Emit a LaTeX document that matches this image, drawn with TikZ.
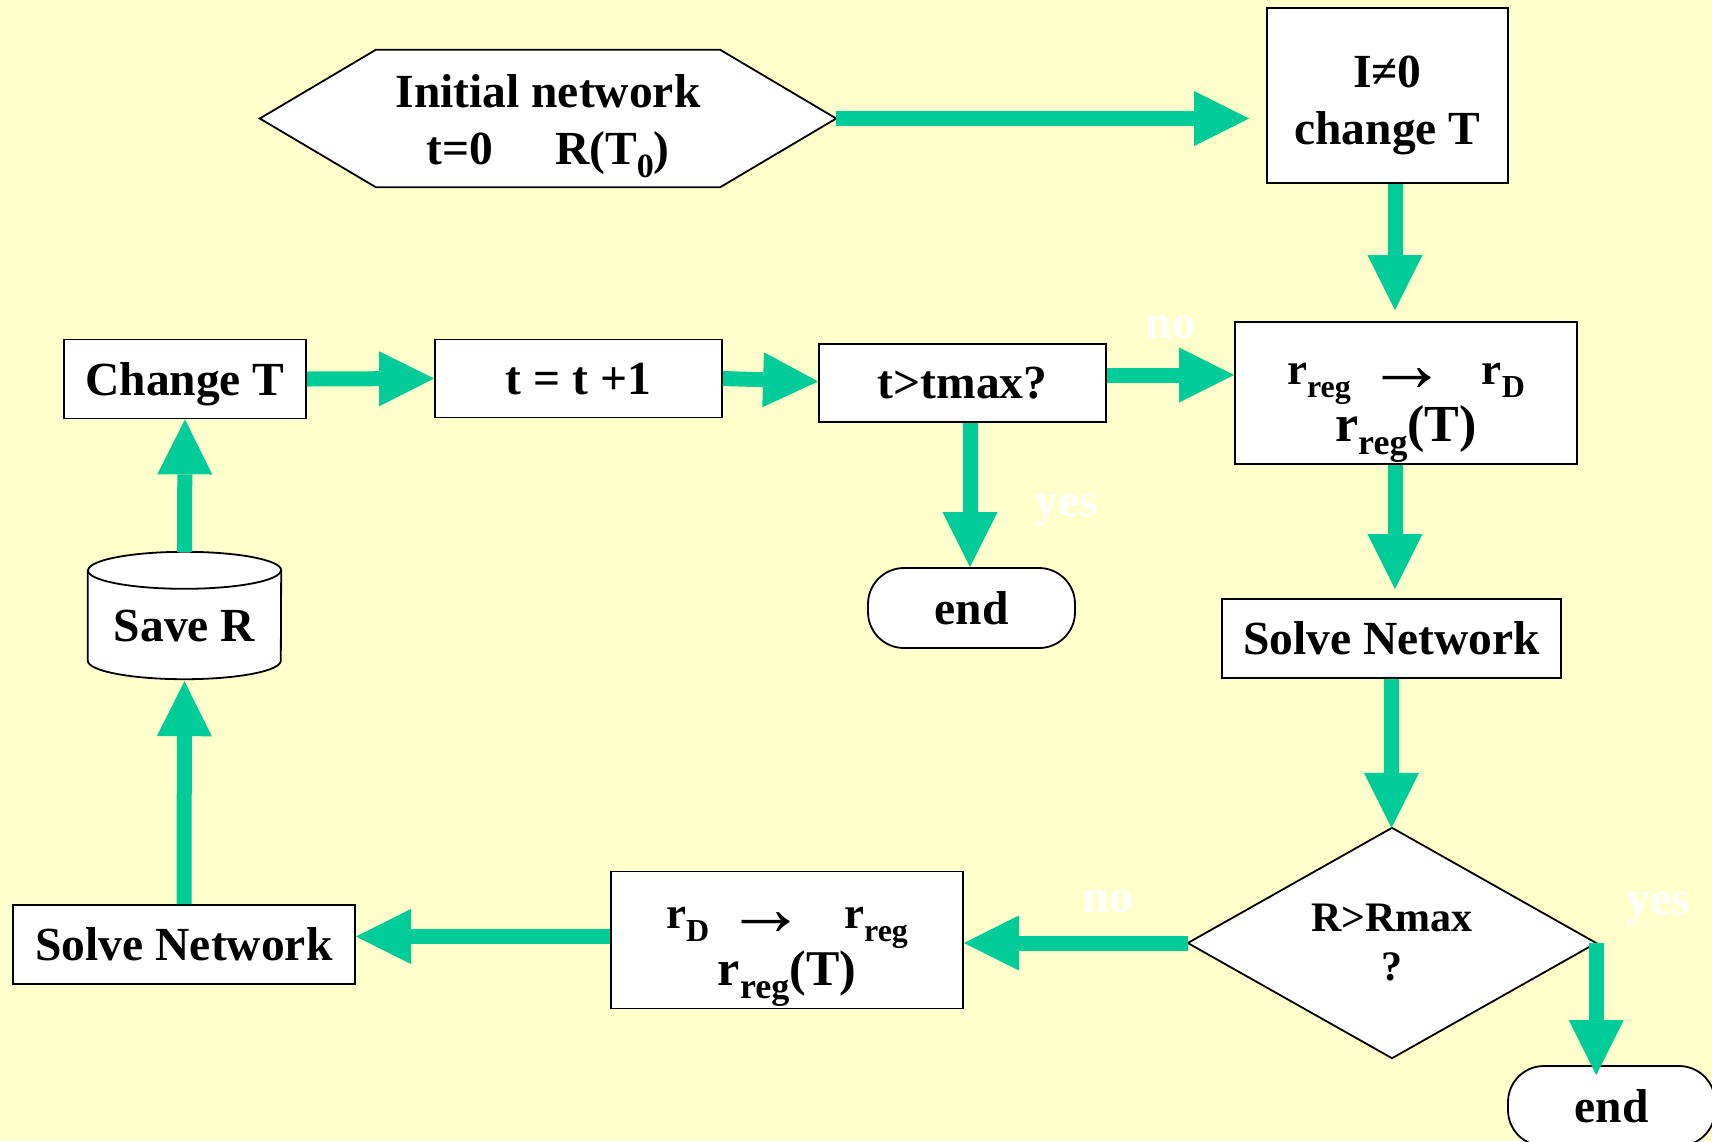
\documentclass[tikz,border=0pt]{standalone}
\usepackage{fontspec}
\usepackage{graphicx}
\setmainfont{Liberation Serif}
\usetikzlibrary{arrows.meta,backgrounds}
\definecolor{bgy}{HTML}{FFFFCC}
\definecolor{flowc}{HTML}{00CC99}
\newcommand{\lowsub}[2][32]{\raisebox{-13pt}{\fontsize{#1}{#1}\selectfont #2}}
\newcommand{\bigarr}{\smash{\raisebox{-7pt}{\scalebox{1.8}{\mdseries →}}}}
\begin{document}
\begin{tikzpicture}[x=1pt,y=-1pt,
  txt/.style={font=\fontsize{47.5}{57}\selectfont\bfseries, align=center, inner sep=0pt},
  box/.style={txt, draw=black, line width=1.8pt, fill=white},
  one/.style={text depth=0pt},
  outline/.style={draw=black, line width=1.8pt, fill=white},
  flow/.style={draw=flowc, line width=15pt, -{Triangle[length=55pt,width=55pt,line width=0pt]}},
  lbl/.style={font=\fontsize{47.5}{57}\selectfont\bfseries, text=white, inner sep=0pt},
  term/.style={box, one, rounded corners=36pt, minimum width=207pt, minimum height=80pt}
]
\useasboundingbox (0,0) rectangle (1712,1141);
\clip (0,0) rectangle (1712,1141);
\begin{scope}[on background layer]
\fill[bgy] (0,0) rectangle (1712,1141);
\end{scope}

% nodes
\node[txt, minimum width=576pt, minimum height=137pt] (hex) at (548,118.5)
  {\rule{0pt}{49pt}Initial network\\t=0\hspace{62pt}R(T\lowsub[34]{0})};
\node[box, minimum width=241pt, minimum height=175pt] (itop) at (1387.5,95.5)
  {\rule{0pt}{51pt}I≠0\\change T};
\node[box, minimum width=342pt, minimum height=142pt] (rreg) at (1406,393)
  {{\fontsize{45}{45}\selectfont\rule{0pt}{60pt}r\lowsub{reg}\hspace{16pt}\bigarr\hspace{34pt}r\lowsub{D}}\\[0pt]{\fontsize{52}{52}\selectfont r\lowsub[36]{reg}(T)}};
\node[box, one, minimum width=287pt, minimum height=78pt] (tmax) at (962.5,383) {t>tmax?};
\node[box, one, minimum width=287pt, minimum height=78pt] (tinc) at (578.5,378.5) {t = t +1};
\node[box, one, minimum width=242pt, minimum height=79pt] (chT) at (185,379) {Change T};
\node[txt, minimum width=193pt, minimum height=127pt] (saveR) at (184.5,615.5) {\smash{\raisebox{-26pt}{Save R}}};
\node[box, one, minimum width=342pt, minimum height=79pt] (solveL) at (184,944.5) {Solve Network};
\node[box, minimum width=352pt, minimum height=137pt] (rD) at (787,940)
  {{\fontsize{45}{45}\selectfont\rule{0pt}{54pt}r\lowsub{D}\hspace{16pt}\bigarr\hspace{38pt}r\lowsub{reg}}\\[0pt]{\fontsize{50}{50}\selectfont r\lowsub[36]{reg}(T)}};
\node[txt, minimum width=408pt, minimum height=230pt] (dec) at (1392,943)
  {\fontsize{42}{49}\selectfont R>Rmax\\[-8pt]\fontsize{42}{49}\selectfont ?};
\node[box, one, minimum width=339pt, minimum height=79pt] (solveR) at (1391.5,638.5) {Solve Network};
\node[term] (endM) at (971.5,608) {end};
\node[term] (endBR) at (1611.5,1106) {end};

% shapes drawn behind their text
\begin{scope}[on background layer]
\draw[outline] (hex.west) -- ([xshift=116pt]hex.north west) -- ([xshift=-116pt]hex.north east)
  -- (hex.east) -- ([xshift=-116pt]hex.south east) -- ([xshift=116pt]hex.south west) -- cycle;
\draw[outline] (dec.west) -- (dec.north) -- (dec.east) -- (dec.south) -- cycle;
\draw[outline] ([yshift=-18.5pt]saveR.north west) -- ([yshift=18.5pt]saveR.south west)
  arc[start angle=180, end angle=360, x radius=96.5pt, y radius=18.5pt]
  -- ([yshift=-18.5pt]saveR.north east)
  arc[start angle=0, end angle=180, x radius=96.5pt, y radius=18.5pt] -- cycle;
\draw[draw=black, line width=1.8pt] ([yshift=-18.5pt]saveR.north west)
  arc[start angle=180, end angle=360, x radius=96.5pt, y radius=18.5pt];
\end{scope}

% connectors
\draw[flow, shorten >=17pt] (hex.east) -- (hex.east -| itop.west);
\draw[flow, shorten >=11pt] ([xshift=7.5pt]itop.south) -- ([xshift=-11pt]rreg.north);
\draw[flow] ([yshift=8pt]tmax.east) -- ([yshift=8pt]tmax.east -| rreg.west);
\draw[flow] (chT.east) -- (tinc.west);
\draw[flow] (tinc.east) -- ([yshift=1.5pt]tmax.west);
\draw[flow] (saveR.north) -- (chT.south);
\draw[flow] (solveL.north) -- ([yshift=-2pt]saveR.south);
\draw[flow] ([yshift=3.5pt]rD.west) -- ([yshift=3.5pt]rD.west -| solveL.east);
\draw[flow] (dec.west) -- (dec.west -| rD.east);
\draw[flow] (dec.east) -- ([yshift=-10pt]dec.east |- endBR.north);
\draw[flow, shorten >=9pt] ([xshift=-11pt]rreg.south) -- ([xshift=-11pt]rreg.south |- solveR.north);
\draw[flow] (solveR.south) -- (solveR.south |- dec.north);
\draw[flow] ([xshift=7.5pt]tmax.south) -- ([xshift=7.5pt]tmax.south |- endM.north);

% labels
\node[lbl] (no1) at (1171,328) {no};
\node[lbl] (yes1) at (1066,510) {yes};
\node[lbl] (no2) at (1108,902) {no};
\node[lbl] (yes2) at (1658,908) {yes};
\end{tikzpicture}
\end{document}
